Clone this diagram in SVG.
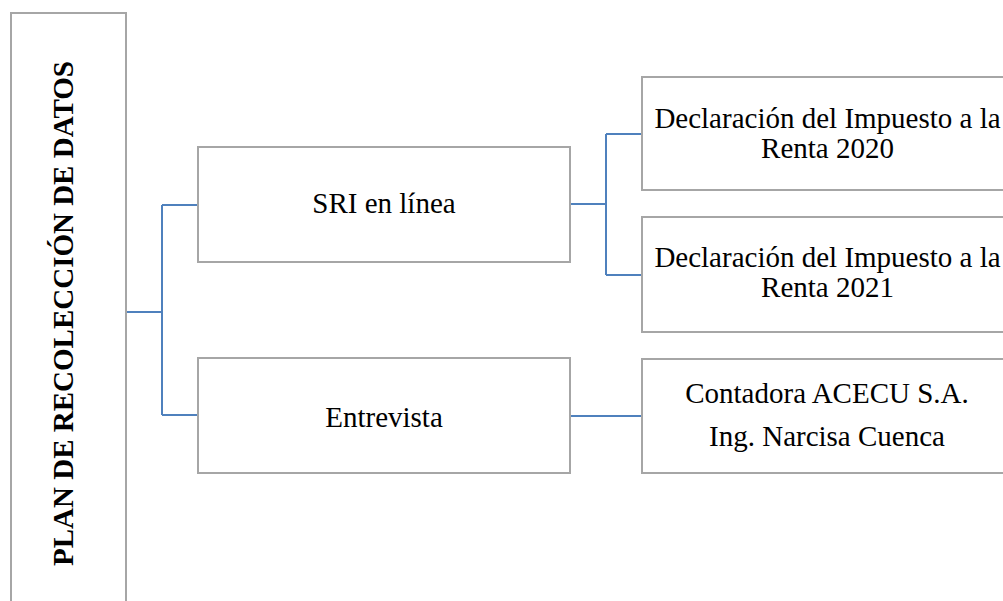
<svg xmlns="http://www.w3.org/2000/svg" width="1003" height="601" viewBox="0 0 1003 601">
<style>
.box{fill:#fff;stroke:#a6a6a6;stroke-width:2}
.t{font-family:"Liberation Serif","Times New Roman",serif;font-size:29px;fill:#000;text-anchor:middle}
.b{font-weight:bold}
.c{fill:none;stroke:#4f81bd;stroke-width:2}
</style>
<rect width="1003" height="601" fill="#fff"/>
<g id="connectors">
<path class="c" d="M126 312H162M162 205V415M162 205H198M162 415H198"/>
<path class="c" d="M570 204H606M606 134V275M606 134H642M606 275H642"/>
<path class="c" d="M570 416H642"/>
</g>
<g id="root">
<rect class="box" x="11" y="13" width="115" height="600"/>
<text class="t b" transform="translate(73,313.5) rotate(-90)">PLAN DE RECOLECCIÓN DE DATOS</text>
</g>
<g id="sri">
<rect class="box" x="198" y="147" width="372" height="115"/>
<text class="t" x="384" y="213">SRI en línea</text>
</g>
<g id="entrevista">
<rect class="box" x="198" y="358" width="372" height="115"/>
<text class="t" x="384" y="427">Entrevista</text>
</g>
<g id="renta2020">
<rect class="box" x="642" y="77" width="372" height="113"/>
<text class="t" x="827.5" y="128">Declaración del Impuesto a la</text>
<text class="t" x="827.5" y="158">Renta 2020</text>
</g>
<g id="renta2021">
<rect class="box" x="642" y="217" width="372" height="115"/>
<text class="t" x="827.5" y="267">Declaración del Impuesto a la</text>
<text class="t" x="827.5" y="297">Renta 2021</text>
</g>
<g id="contadora">
<rect class="box" x="642" y="359" width="372" height="114"/>
<text class="t" x="827" y="403">Contadora ACECU S.A.</text>
<text class="t" x="827" y="446">Ing. Narcisa Cuenca</text>
</g>
</svg>
